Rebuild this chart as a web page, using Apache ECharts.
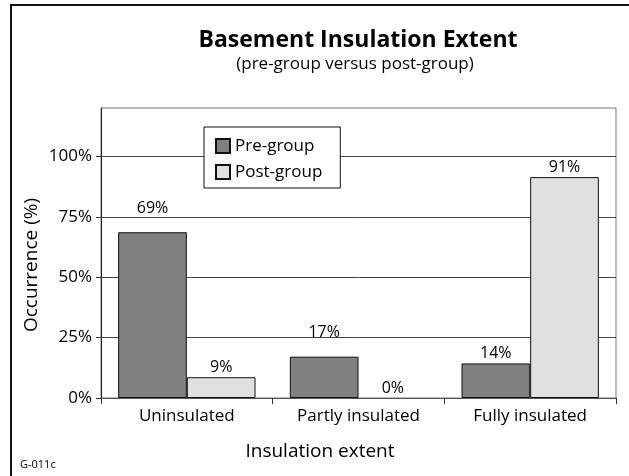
<!DOCTYPE html>
<html lang="en">
<head>
    <meta charset="UTF-8">
    <title>Basement Insulation Extent</title>
    <script src="https://cdn.jsdelivr.net/npm/echarts@6.0.0/dist/echarts.min.js"></script>
    <style>
        html, body { margin: 0; padding: 0; background: #fff; }
        #chart { width: 629px; height: 476px; }
    </style>
</head>
<body>
<div id="chart"></div>
<script>
    // data
    var categories = ['Uninsulated', 'Partly insulated', 'Fully insulated'];
    var preGroup = [68.6, 17.1, 14.3];
    var postGroup = [8.6, 0, 91.4];
    var yTicks = [0, 25, 50, 75, 100];

    // labels that were pushed up above a gridline in the original
    var raisedPre = [0, 1];

    var font = '"Open Sans", Lato, sans-serif';

    function makeItems(values, raised) {
        return values.map(function (v, i) {
            var item = { value: v };
            if (raised.indexOf(i) >= 0) {
                item.label = { distance: 16 };
            }
            if (v === 0) {
                // an empty bar leaves no outline on the axis
                item.itemStyle = { borderWidth: 0 };
            }
            return item;
        });
    }

    var chart = echarts.init(document.getElementById('chart'));

    var labelStyle = {
        show: true,
        position: 'top',
        distance: 2,
        fontSize: 16,
        color: '#000',
        fontFamily: font,
        formatter: function (p) { return Math.round(p.value) + '%'; }
    };

    var option = {
        backgroundColor: '#fff',
        animation: false,
        textStyle: { fontFamily: font },
        grid: {
            left: 101,
            top: 108,
            right: 13,
            bottom: 78,
            show: true,
            borderColor: '#777',
            borderWidth: 1
        },
        legend: {
            orient: 'vertical',
            left: 204,
            top: 127,
            backgroundColor: '#fff',
            borderColor: '#111',
            borderWidth: 1,
            borderRadius: 0,
            padding: [10, 18, 7, 11],
            itemWidth: 14,
            itemHeight: 14,
            itemGap: 8,
            icon: 'rect',
            textStyle: { fontSize: 17, color: '#000', lineHeight: 18, fontFamily: font },
            data: ['Pre-group', 'Post-group']
        },
        xAxis: {
            type: 'category',
            data: categories,
            axisLine: { lineStyle: { color: '#555', width: 1 } },
            axisTick: { show: true, length: 6, lineStyle: { color: '#333' } },
            axisLabel: { fontSize: 17, color: '#000', margin: 10, fontFamily: font }
        },
        yAxis: {
            type: 'value',
            min: 0,
            max: 120,
            interval: 25,
            axisLine: { show: true, lineStyle: { color: '#222' } },
            axisTick: { show: true, length: 5, customValues: yTicks, lineStyle: { color: '#333' } },
            axisLabel: {
                fontSize: 17,
                color: '#000',
                margin: 9,
                fontFamily: font,
                customValues: yTicks,
                formatter: function (v) { return v + '%'; }
            },
            splitLine: { show: true, lineStyle: { color: '#444', width: 1 } }
        },
        series: [
            {
                name: 'Pre-group',
                type: 'bar',
                barGap: '0%',
                barCategoryGap: '20%',
                data: makeItems(preGroup, raisedPre),
                itemStyle: { color: '#808080', borderColor: '#111', borderWidth: 1 },
                label: labelStyle
            },
            {
                name: 'Post-group',
                type: 'bar',
                barGap: '0%',
                barCategoryGap: '20%',
                data: makeItems(postGroup, []),
                itemStyle: { color: '#e0e0e0', borderColor: '#111', borderWidth: 1 },
                label: labelStyle
            }
        ],
        graphic: [
            {
                type: 'rect',
                silent: true,
                shape: { x: 11, y: 5, width: 700, height: 600 },
                style: { fill: 'none', stroke: '#111', lineWidth: 2 }
            },
            {
                type: 'text',
                x: 358, y: 40,
                style: {
                    text: 'Basement Insulation Extent',
                    textAlign: 'center', textVerticalAlign: 'middle',
                    font: 'bold 23px ' + font, fill: '#000'
                }
            },
            {
                type: 'text',
                x: 355, y: 64,
                style: {
                    text: '(pre-group versus post-group)',
                    textAlign: 'center', textVerticalAlign: 'middle',
                    font: '17px ' + font, fill: '#000'
                }
            },
            {
                type: 'text',
                x: 32, y: 265,
                rotation: Math.PI / 2,
                style: {
                    text: 'Occurrence (%)',
                    textAlign: 'center', textVerticalAlign: 'middle',
                    font: '19px ' + font, fill: '#000'
                }
            },
            {
                type: 'text',
                x: 320, y: 452,
                style: {
                    text: 'Insulation extent',
                    textAlign: 'center', textVerticalAlign: 'middle',
                    font: '19px ' + font, fill: '#000'
                }
            },
            {
                type: 'text',
                x: 20, y: 465,
                style: {
                    text: 'G-011c',
                    textAlign: 'left', textVerticalAlign: 'middle',
                    font: '11px ' + font, fill: '#000'
                }
            }
        ]
    };

    chart.setOption(option);
</script>
</body>
</html>
